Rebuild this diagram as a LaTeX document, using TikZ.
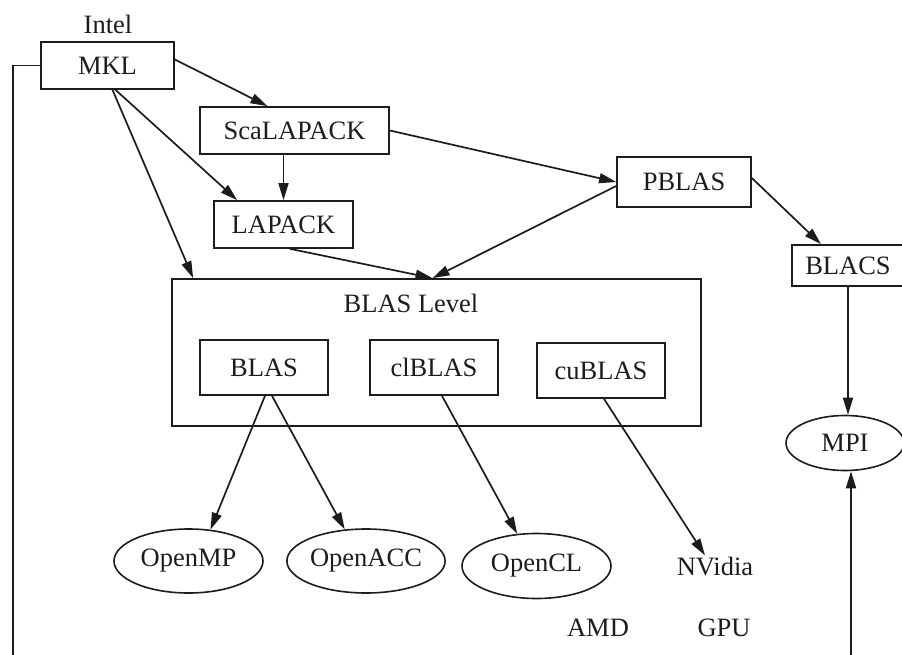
\documentclass[tikz,border=0pt]{standalone}
\usepackage{fontspec}
\setmainfont{Liberation Serif}
\usetikzlibrary{arrows.meta,positioning,calc,shapes.geometric}
\definecolor{ink}{RGB}{30,27,28}
\newcommand{\libfont}{\fontsize{26.5}{31}\selectfont}
\tikzset{
  lib/.style={draw=ink,line width=1.7pt,inner sep=0pt,font=\libfont,text=ink},
  ovl/.style={ellipse,draw=ink,line width=1.6pt,inner sep=0pt,font=\libfont,text=ink},
  txt/.style={inner sep=2pt,font=\libfont,text=ink},
  arr/.style={-{Stealth[length=17pt,width=10pt,inset=0pt]},line width=1.7pt,draw=ink},
  wire/.style={line width=1.7pt,draw=ink},
}

\begin{document}
\begin{tikzpicture}[x=1pt,y=-1pt]
\useasboundingbox (0,0) rectangle (902,655);
% top row
\node[txt] (intel) at (108,24) {Intel};
\node[lib,minimum width=133,minimum height=47] (mkl) at (107.5,65.5) {MKL};
\node[lib,minimum width=189,minimum height=47] (scalapack) at (294.5,130.5) {ScaLAPACK};
\node[lib,minimum width=139,minimum height=47] (lapack) at (283.5,224.5) {LAPACK};
\node[lib,minimum width=134,minimum height=50] (pblas) at (684,182) {PBLAS};
\node[lib,minimum width=112,minimum height=41] (blacs) at (848,265.5) {BLACS};
% BLAS level
\node[lib,minimum width=529,minimum height=147] (level) at (436.5,352.5) {};
\node[txt] (leveltitle) at (411,303) {BLAS Level};
\node[lib,minimum width=128,minimum height=55] (blas) at (264,367.5) {BLAS};
\node[lib,minimum width=128,minimum height=55] (clblas) at (434,367.5) {clBLAS};
\node[lib,minimum width=128,minimum height=55] (cublas) at (601,370.5) {cuBLAS};
% back ends
\node[ovl,minimum width=118,minimum height=55] (mpi) at (845,443) {MPI};
\node[ovl,minimum width=149,minimum height=64] (openmp) at (188.5,561) {OpenMP};
\node[ovl,minimum width=148,minimum height=64] (openacc) at (366,561) {OpenACC};
\node[ovl,minimum width=149,minimum height=65] (opencl) at (536.5,566) {OpenCL};
\node[txt] (nvidia) at (715,567) {NVidia};
\node[txt] (amd) at (598,628) {AMD};
\node[txt] (gpu) at (724,628) {GPU};
\coordinate (lside) at (13,660);
\coordinate (mpiin) at (851,660);

\draw[wire] (mkl.west) -| (lside);
\draw[arr] ([yshift=6pt]mkl.east) -- ([xshift=-27pt]scalapack.north);
\draw[arr] ([xshift=8pt]mkl.south) -- ([xshift=24pt]lapack.north west);
\draw[arr] ([xshift=5pt]mkl.south) -- ([xshift=22pt]level.north west);
\draw[arr] (scalapack.south -| lapack) -- (lapack);
\draw[arr] (scalapack.east) -- (pblas.west);
\draw[arr] ([xshift=6.5pt]lapack.south) -- ([xshift=-4pt]level.north);
\draw[arr] ([yshift=-4pt]pblas.west) -- ([xshift=-4pt]level.north);
\draw[arr] ([yshift=4pt]pblas.east) -- ([xshift=-27pt]blacs.north);
\draw[arr] (blacs.south) -- (blacs.south |- mpi.north);
\draw[arr] (mpiin) -- (mpiin |- mpi.south);
\draw[arr] ([xshift=1pt]blas.south) -- (openmp.55);
\draw[arr] ([xshift=8pt]blas.south) -- (openacc.124);
\draw[arr] ([xshift=8pt]clblas.south) -- (opencl.121);
\draw[arr] ([xshift=3pt]cublas.south) -- ([xshift=-10pt]nvidia.north);
\end{tikzpicture}
\end{document}
